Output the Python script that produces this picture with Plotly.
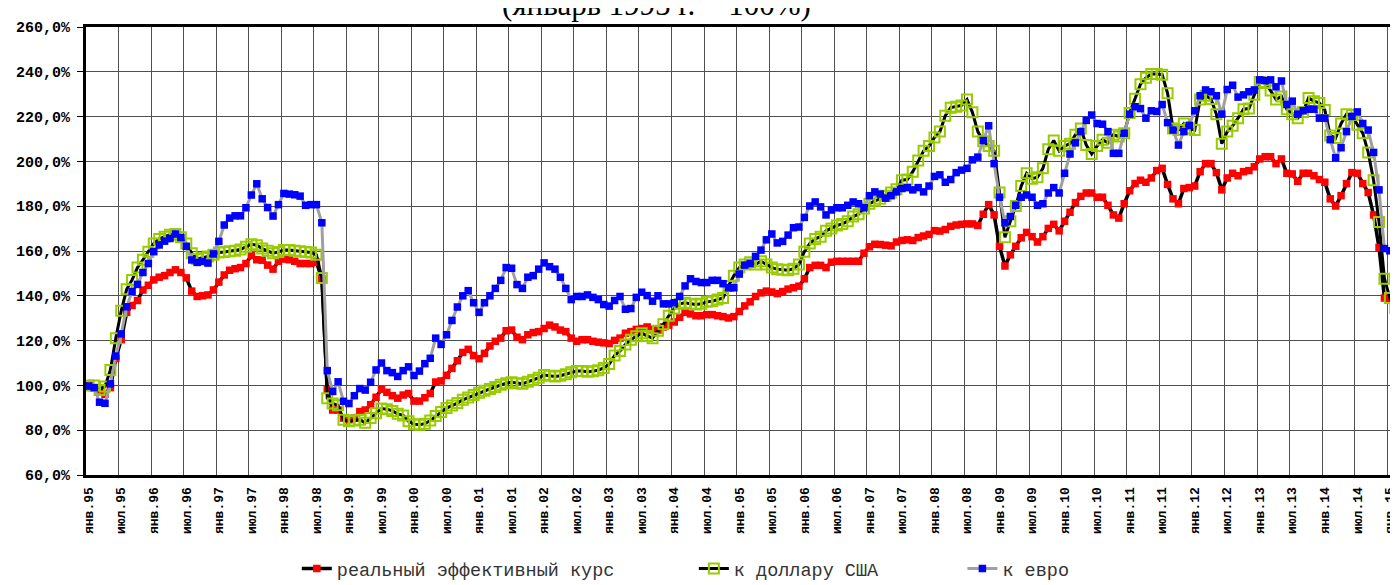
import plotly.graph_objects as go

# ---- data (monthly, Jan 1995 .. Feb 2015; Jan 1995 = 100%) ----
month_names = ["янв", "фев", "мар", "апр", "май", "июн",
               "июл", "авг", "сен", "окт", "ноя", "дек"]
years = list(range(1995, 2016))
months = [f"{month_names[m]}.{str(y)[2:]}" for y in years for m in range(12)][:242]

real_eff = [
    100, 99, 98, 96, 99, 112, 120.4, 132.6, 135.7, 137.9, 142.6, 144.7,
    147.1, 148.3, 149, 150.4, 151.6, 150.4, 148, 142.1, 139.7, 140, 140.4, 142.6,
    146.1, 149.3, 151.4, 152.1, 152.6, 154.4, 158, 156.1, 155.9, 153.7, 151.9, 155.4,
    156.4, 156.1, 155.4, 154.4, 154.4, 154.4, 155, 147.6, 98, 89, 89, 85.4,
    84.7, 85.4, 88.3, 89, 91.4, 94.7, 98.3, 96.9, 95.4, 94.3, 95.7, 96.4,
    93, 93, 94.5, 96.4, 101.5, 102, 104.5, 107.6, 111, 114.7, 116.1, 113.3,
    111.9, 114.3, 117.6, 119.7, 121.1, 124.4, 124.7, 121.5, 120.4, 122.6, 123.6, 124,
    125.4, 126.9, 126.1, 124.7, 124, 121.1, 119.7, 120.4, 120.4, 119.7, 119.3, 119,
    118.7, 120.1, 121.1, 123.3, 124, 125, 125.4, 126.1, 125, 124.7, 126.1, 126.9,
    128.3, 130.4, 132.6, 131.9, 131.1, 131.1, 131.6, 131.6, 131.1, 130.7, 130.1, 130.7,
    133, 135.5, 137.3, 139.7, 141.3, 142.1, 141.7, 141, 141.9, 143, 143.6, 144.3,
    147.6, 152.6, 153.6, 153.6, 152.6, 155, 155.4, 155.4, 155.4, 155.4, 155.4, 159,
    161.9, 163, 162.9, 162.6, 162.3, 164, 164.7, 165, 164.7, 166, 166.7, 167.4,
    169.1, 168.9, 169.6, 171, 171.6, 171.9, 172.1, 172.1, 171.4, 176.4, 180.7, 176.1,
    162.1, 153.3, 158.3, 162.1, 165.9, 168.3, 166.4, 164, 166.4, 170.1, 171.9, 169,
    173.3, 177.3, 181.6, 184.4, 185.9, 185.9, 184, 184, 180.4, 176.1, 174.7, 181.1,
    186.9, 190.1, 191.6, 190.7, 192.6, 195.9, 196.9, 189.7, 183.3, 181.1, 187.9, 188.3,
    189, 195.4, 199, 199, 195, 187.3, 192.6, 194.7, 193.6, 195.4, 195.9, 197.6,
    201.1, 202.1, 202.1, 199, 201.1, 194.7, 194.4, 191.1, 194.7, 194.7, 193.6, 191.9,
    190.7, 183.3, 180.1, 184.7, 190.1, 195, 194.7, 190.1, 186.1, 176.1, 161.6, 139,
    138.3, 138.7,
]

usd = [
    100, 100, 98, 99.5, 106.9, 121.1, 133.3, 142.9, 147.1, 152.6, 156.1, 159.7,
    163.3, 165.4, 166.4, 167.3, 167.6, 166.1, 163.3, 159, 156.4, 156.9, 157.6, 158.3,
    159.3, 159.6, 159.9, 160.1, 160.7, 161.9, 163, 162.6, 161.1, 160.1, 159, 159.6,
    160.4, 160.4, 160.1, 159.9, 159.6, 159.3, 158.3, 148, 94.3, 91.9, 91.1, 84.7,
    84, 84.3, 84.7, 83.3, 85.4, 87.6, 89.7, 89.4, 88.6, 87.3, 86.6, 84,
    82.7, 82.4, 82.9, 84.3, 86.3, 88.1, 89.9, 91, 92.1, 93.6, 94.6, 95.7,
    96.7, 97.6, 98.4, 99.3, 100.3, 101, 101.4, 101, 100.7, 101.6, 102.4, 103.4,
    104.6, 104.3, 104, 104.3, 105, 105.9, 106.4, 106.4, 106.1, 106.3, 106.8, 107.8,
    109.5, 113.3, 115.4, 118.3, 120.4, 121.9, 123.3, 122.1, 121.1, 124.4, 127.3, 131.1,
    134.3, 136.4, 136.9, 136.4, 136.1, 136.4, 137.3, 137.6, 138.3, 139, 144.4, 149,
    152.6, 154, 155, 154, 155.4, 154, 152.6, 151.9, 151.6, 151.4, 152.1, 154,
    159.7, 163.3, 165.4, 166.4, 169, 170.1, 171.4, 172.1, 173.3, 175.4, 176.4, 179,
    181.1, 182.4, 183.3, 184.7, 186.1, 187.6, 191.6, 191.9, 195.4, 200.4, 204.7, 206.9,
    210.7, 213.3, 220.4, 224, 224.4, 225, 227.6, 221.9, 213.3, 209, 206.9, 204.7,
    186.1, 166.1, 173.3, 180.1, 189, 194.7, 192.3, 192.9, 196.9, 205.4, 209.3, 204.7,
    206.9, 207.9, 211.9, 214.7, 207.3, 203.3, 206.9, 209.7, 208.3, 211.9, 211.1, 212.6,
    221.6, 228, 234.4, 237.3, 239, 239, 238.7, 230.4, 214.7, 214, 216.9, 214.7,
    214, 227.6, 229.3, 227.9, 221.1, 207.9, 213.3, 215.9, 219.3, 223.3, 223.6, 229.7,
    235.4, 235, 231.6, 227.6, 229, 223.3, 221.1, 219.3, 222.1, 228.3, 226.9, 226.1,
    223, 211.6, 210.4, 216.9, 221.1, 220.7, 216.4, 212.6, 204, 191.6, 173, 147.6,
    139, 134.7,
]

eur = [
    99.7, 99, 92.5, 92, 100.7, 113.1, 123, 135.1, 141.9, 145.1, 150.4, 154.4,
    159.7, 162.7, 164.4, 165.6, 167.6, 166, 162.1, 156, 154.9, 155.3, 154.6, 158.7,
    164.3, 171.6, 174.7, 175.7, 175.7, 179.3, 185, 190, 183.3, 179.4, 175.6, 180.7,
    185.7, 185.4, 185.1, 184.5, 180.4, 180.7, 180.7, 172.6, 106.6, 97.3, 101.6, 92.9,
    91.9, 95.4, 98.6, 97.9, 101.4, 106.9, 110, 106.6, 105.7, 104, 106.6, 108.3,
    104.4, 106.4, 109.7, 112.1, 121.1, 118.3, 122.6, 129, 135, 140, 142.3, 136.9,
    132.6, 136.9, 140, 143.3, 146.9, 152.6, 152.3, 145, 143.3, 148.3, 149, 151.9,
    154.7, 153, 151.9, 148.3, 143.3, 138.3, 139.7, 139.7, 140.4, 139.3, 138.3, 136.1,
    135.4, 137.9, 139.7, 134, 134.3, 139.3, 141.6, 140.1, 137.6, 140, 136.4, 136.4,
    136.9, 139.7, 144.4, 147.6, 146.4, 145.9, 145.9, 146.9, 146.9, 145.4, 143.6, 143.6,
    149.7, 153.7, 154.4, 157.6, 160.4, 165, 167.6, 163.6, 164.3, 167.1, 170.4, 170.7,
    175, 180.1, 181.9, 179.7, 176.1, 178.3, 179.3, 179.3, 180.4, 181.9, 181.1, 179.3,
    184.7, 186.4, 185.4, 183.6, 184.7, 186.4, 187.9, 188.3, 187.3, 188.3, 186.4, 189,
    193.3, 194, 190.7, 191.9, 195, 196.1, 196.9, 200.7, 201.9, 209.3, 215.9, 199,
    184, 172.6, 175.4, 180.4, 184, 185, 184, 180.4, 181.1, 185.9, 188.3, 185.9,
    194.7, 203.3, 208.3, 213.3, 218.3, 220.7, 216.9, 216.6, 213.3, 203.6, 203.6, 212.6,
    221.1, 224.4, 223.6, 219.3, 222.6, 222.3, 225.4, 217.3, 214, 207.3, 213.3, 216.1,
    222.6, 229.3, 231.9, 231.1, 229.3, 221.1, 232.1, 234, 228.7, 229.7, 231.1, 231.9,
    236.4, 236.1, 236.4, 233.3, 235.9, 225.4, 226.9, 221.1, 222.6, 223.3, 223.3, 219.3,
    219.3, 209.7, 201.6, 206.1, 213.3, 220.1, 222.1, 216.9, 214, 204, 187.3, 161.1,
    160.1, 160.7,
]

y_ticks = list(range(60, 261, 20))
y_ticktext = [f"{v},0%" for v in y_ticks]
x_tickvals = list(range(0, len(months), 6))
x_ticktext = [months[i] for i in x_tickvals]
x_idx = list(range(len(months)))

series_names = ["реальный эффективный курс", "к доллару США", "к евро"]

fig = go.Figure()
fig.add_trace(go.Scatter(
    x=x_idx, y=real_eff, name=series_names[0], mode="lines+markers",
    line=dict(color="black", width=3.5),
    marker=dict(symbol="square", size=7.5, color="#FF0000", line=dict(width=0)),
    legend="legend",
))
fig.add_trace(go.Scatter(
    x=x_idx, y=usd, name=series_names[1], mode="lines+markers",
    line=dict(color="black", width=3),
    marker=dict(symbol="square-open", size=10, color="#99CC00", line=dict(width=2, color="#99CC00")),
    legend="legend2",
))
fig.add_trace(go.Scatter(
    x=x_idx, y=eur, name=series_names[2], mode="lines+markers",
    line=dict(color="#A0A0A0", width=3),
    marker=dict(symbol="square", size=7.5, color="#0000FF", line=dict(width=0)),
    legend="legend3",
))

legend_common = dict(
    orientation="h", yanchor="middle", y=-0.21, xanchor="left",
    bgcolor="rgba(0,0,0,0)",
    font=dict(family="Liberation Mono, Courier New, monospace", size=18.5, color="#333333"),
)

fig.update_layout(
    width=1398, height=585,
    margin=dict(l=78, r=5, t=19, b=99),
    paper_bgcolor="white", plot_bgcolor="white",
    showlegend=True,
    legend=dict(x=0.1607, **legend_common),
    legend2=dict(x=0.4633, **legend_common),
    legend3=dict(x=0.668, **legend_common),
    xaxis=dict(
        range=[-0.5, len(months) - 0.5],
        tickmode="array", tickvals=x_tickvals, ticktext=x_ticktext,
        tickangle=-90, ticks="", showgrid=False, zeroline=False,
        tickfont=dict(family="Liberation Mono, Courier New, monospace", size=13, color="black", weight="bold"),
        ticklabelstandoff=4,
        showline=True, linewidth=3, linecolor="black", mirror=True,
        minor=dict(tick0=-0.5, dtick=6, showgrid=True, gridcolor="#505050", gridwidth=1, ticks=""),
    ),
    yaxis=dict(
        range=[60, 260],
        tickmode="array", tickvals=y_ticks, ticktext=y_ticktext,
        ticks="outside", ticklen=6, tickwidth=1, tickcolor="black",
        showgrid=True, gridcolor="#505050", gridwidth=1, zeroline=False,
        tickfont=dict(family="Liberation Mono, Courier New, monospace", size=15, color="black", weight="bold"),
        ticklabelstandoff=4,
        showline=True, linewidth=3, linecolor="black", mirror=True,
    ),
    annotations=[dict(
        text="(январь 1995 г. = 100%)", xref="paper", yref="paper",
        x=0.435, y=1.006, xanchor="center", yanchor="bottom", showarrow=False,
        font=dict(family="Liberation Serif, Times New Roman, serif", size=31, color="black"),
    )],
)

fig.write_html("out.html")
